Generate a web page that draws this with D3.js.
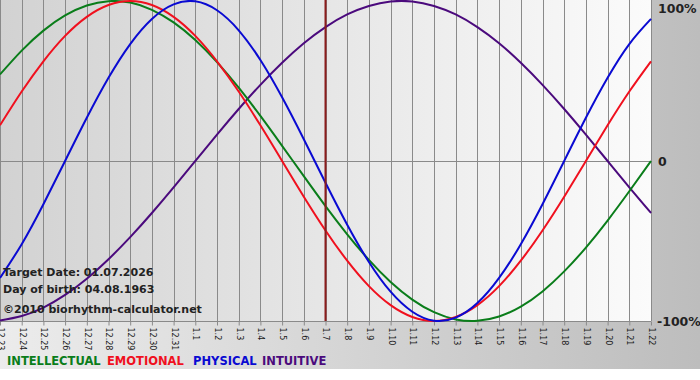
<!DOCTYPE html>
<html>
<head>
<meta charset="utf-8">
<script src="https://cdn.jsdelivr.net/npm/d3@7"></script>
<style>
	html, body { margin: 0; padding: 0; background: #fff; }
	svg { display: block; }
</style>
</head>
<body>
<div id="chart"></div>
<script>
// day labels (month.day), target day is 1.7
const days = [
	"12.23", "12.24", "12.25", "12.26", "12.27", "12.28", "12.29", "12.30", "12.31",
	"1.1", "1.2", "1.3", "1.4", "1.5", "1.6", "1.7", "1.8", "1.9", "1.10", "1.11",
	"1.12", "1.13", "1.14", "1.15", "1.16", "1.17", "1.18", "1.19", "1.20", "1.21", "1.22"
];
const targetDay = "1.7";

// values in percent, one per day
const intellectual = [54.1, 69.0, 81.5, 91.0, 97.2, 99.9, 99.0, 94.5, 86.6, 75.6, 61.8, 45.8, 28.2, 9.5, -9.5, -28.2,
	-45.8, -61.8, -75.6, -86.6, -94.5, -99.0, -99.9, -97.2, -91.0, -81.5, -69.0, -54.1, -37.2, -18.9, 0];
const emotional = [22.3, 43.4, 62.3, 78.2, 90.1, 97.5, 100, 97.5, 90.1, 78.2, 62.3, 43.4, 22.3, 0, -22.3, -43.4,
	-62.3, -78.2, -90.1, -97.5, -100, -97.5, -90.1, -78.2, -62.3, -43.4, -22.3, 0, 22.3, 43.4, 62.3];
const physical = [-73.1, -52.0, -27.0, 0, 27.0, 52.0, 73.1, 88.8, 97.9, 99.8, 94.2, 81.7, 63.1, 39.8, 13.6, -13.6,
	-39.8, -63.1, -81.7, -94.2, -99.8, -97.9, -88.8, -73.1, -52.0, -27.0, 0, 27.0, 52.0, 73.1, 88.8];
const intuitive = [-99.7, -96.9, -91.6, -83.7, -73.6, -61.4, -47.6, -32.5, -16.5, 0, 16.5, 32.5, 47.6, 61.4, 73.6, 83.7,
	91.6, 96.9, 99.7, 99.7, 96.9, 91.6, 83.7, 73.6, 61.4, 47.6, 32.5, 16.5, 0, -16.5, -32.5];

const seriesNames = ["INTELLECTUAL", "EMOTIONAL", "PHYSICAL", "INTUITIVE"];
const yTicks = [100, 0, -100];
const yTickLabels = ["100%", "0", "-100%"];
const infoLines = ["Target Date: 01.07.2026", "Day of birth: 04.08.1963", "©2010 biorhythm-calculator.net"];

const COLORS = {
	INTELLECTUAL: "#0a7d1a",
	EMOTIONAL: "#f0101e",
	PHYSICAL: "#0a0ad2",
	INTUITIVE: "#4b0a7d"
};

const W = 700, H = 380;
const PLOT = { left: 0, top: 1, right: 651, bottom: 321 };
const FONT = "'DejaVu Sans', Verdana, sans-serif";
const LEGEND_X = [7, 107, 193, 262];

const svg = d3.select("#chart").append("svg")
	.attr("width", W)
	.attr("height", H);

const defs = svg.append("defs");
const outerGrad = defs.append("linearGradient").attr("id", "outerGrad");
outerGrad.append("stop").attr("offset", "0%").attr("stop-color", "#ececec");
outerGrad.append("stop").attr("offset", "100%").attr("stop-color", "#bdbdbd");
const plotGrad = defs.append("linearGradient").attr("id", "plotGrad");
plotGrad.append("stop").attr("offset", "0%").attr("stop-color", "#d2d2d2");
plotGrad.append("stop").attr("offset", "100%").attr("stop-color", "#fbfbfb");

// frame background
svg.append("rect")
	.attr("x", 0).attr("y", 0)
	.attr("width", W).attr("height", 369)
	.attr("fill", "url(#outerGrad)");

svg.append("rect")
	.attr("x", PLOT.left).attr("y", 0)
	.attr("width", PLOT.right - PLOT.left).attr("height", PLOT.bottom)
	.attr("fill", "url(#plotGrad)");

const x = d3.scalePoint()
	.domain(days)
	.range([PLOT.left, PLOT.right]);

const y = d3.scaleLinear()
	.domain([-100, 100])
	.range([PLOT.bottom, PLOT.top]);

// vertical day grid
svg.append("g")
	.selectAll("line")
	.data(days)
	.join("line")
	.attr("x1", d => Math.round(x(d)) + 0.5)
	.attr("x2", d => Math.round(x(d)) + 0.5)
	.attr("y1", 0)
	.attr("y2", PLOT.bottom)
	.attr("stroke", "#8a8a8a")
	.attr("stroke-width", 1);

// zero line + bottom line
svg.append("g")
	.selectAll("line")
	.data([0, -100])
	.join("line")
	.attr("x1", PLOT.left)
	.attr("x2", PLOT.right)
	.attr("y1", d => Math.round(y(d)) + 0.5)
	.attr("y2", d => Math.round(y(d)) + 0.5)
	.attr("stroke", "#8a8a8a");

// X axis (rotated day labels)
svg.append("g")
	.attr("transform", `translate(0,${PLOT.bottom + 0.5})`)
	.call(d3.axisBottom(x).tickSize(4).tickSizeOuter(0).offset(0.5))
	.call(ax => ax.select(".domain").remove())
	.call(ax => ax.selectAll("line").attr("stroke", "#8a8a8a"))
	.selectAll("text")
	.attr("transform", "rotate(90)")
	.attr("x", 6)
	.attr("y", 0)
	.attr("dy", "0.32em")
	.attr("text-anchor", "start")
	.style("fill", "#1a1a1a")
	.style("font-family", FONT)
	.style("font-size", "8px");

// Right axis (percent)
svg.append("g")
	.attr("transform", `translate(${PLOT.right + 7},0)`)
	.call(d3.axisRight(y).tickValues(yTicks).tickSize(0)
		.tickFormat((d, i) => yTickLabels[i]))
	.call(ax => ax.select(".domain").remove())
	.selectAll("text")
	.attr("x", 0)
	.attr("dx", d => d === -100 ? -1 : 0)
	.attr("dy", d => d === 100 ? "0.95em" : "0.36em")
	.style("fill", "#222")
	.style("font-family", FONT)
	.style("font-size", "12.5px")
	.style("font-weight", "bold");

// curves
const series = [
	{ name: "INTUITIVE", values: intuitive },
	{ name: "INTELLECTUAL", values: intellectual },
	{ name: "EMOTIONAL", values: emotional },
	{ name: "PHYSICAL", values: physical }
];

const line = d3.line()
	.x((d, i) => x(days[i]))
	.y(d => y(d))
	.curve(d3.curveNatural);

svg.append("g")
	.selectAll("path")
	.data(series)
	.join("path")
	.attr("d", d => line(d.values))
	.attr("fill", "none")
	.attr("stroke", d => COLORS[d.name])
	.attr("stroke-width", 2);

// target day marker
svg.append("line")
	.attr("x1", x(targetDay))
	.attr("x2", x(targetDay))
	.attr("y1", 0)
	.attr("y2", PLOT.bottom)
	.attr("stroke", "#8b1c1c")
	.attr("stroke-width", 2);

// info text
svg.append("g")
	.selectAll("text")
	.data(infoLines)
	.join("text")
	.attr("x", 3)
	.attr("y", (d, i) => [276, 293, 313][i])
	.style("fill", "#222")
	.style("font-family", FONT)
	.style("font-size", "11px")
	.style("font-weight", "bold")
	.text(d => d);

// legend
svg.append("g")
	.selectAll("text")
	.data(seriesNames)
	.join("text")
	.attr("x", (d, i) => LEGEND_X[i])
	.attr("y", 365)
	.style("fill", d => COLORS[d])
	.style("font-family", FONT)
	.style("font-size", "11.5px")
	.style("font-weight", "bold")
	.text(d => d);
</script>
</body>
</html>
